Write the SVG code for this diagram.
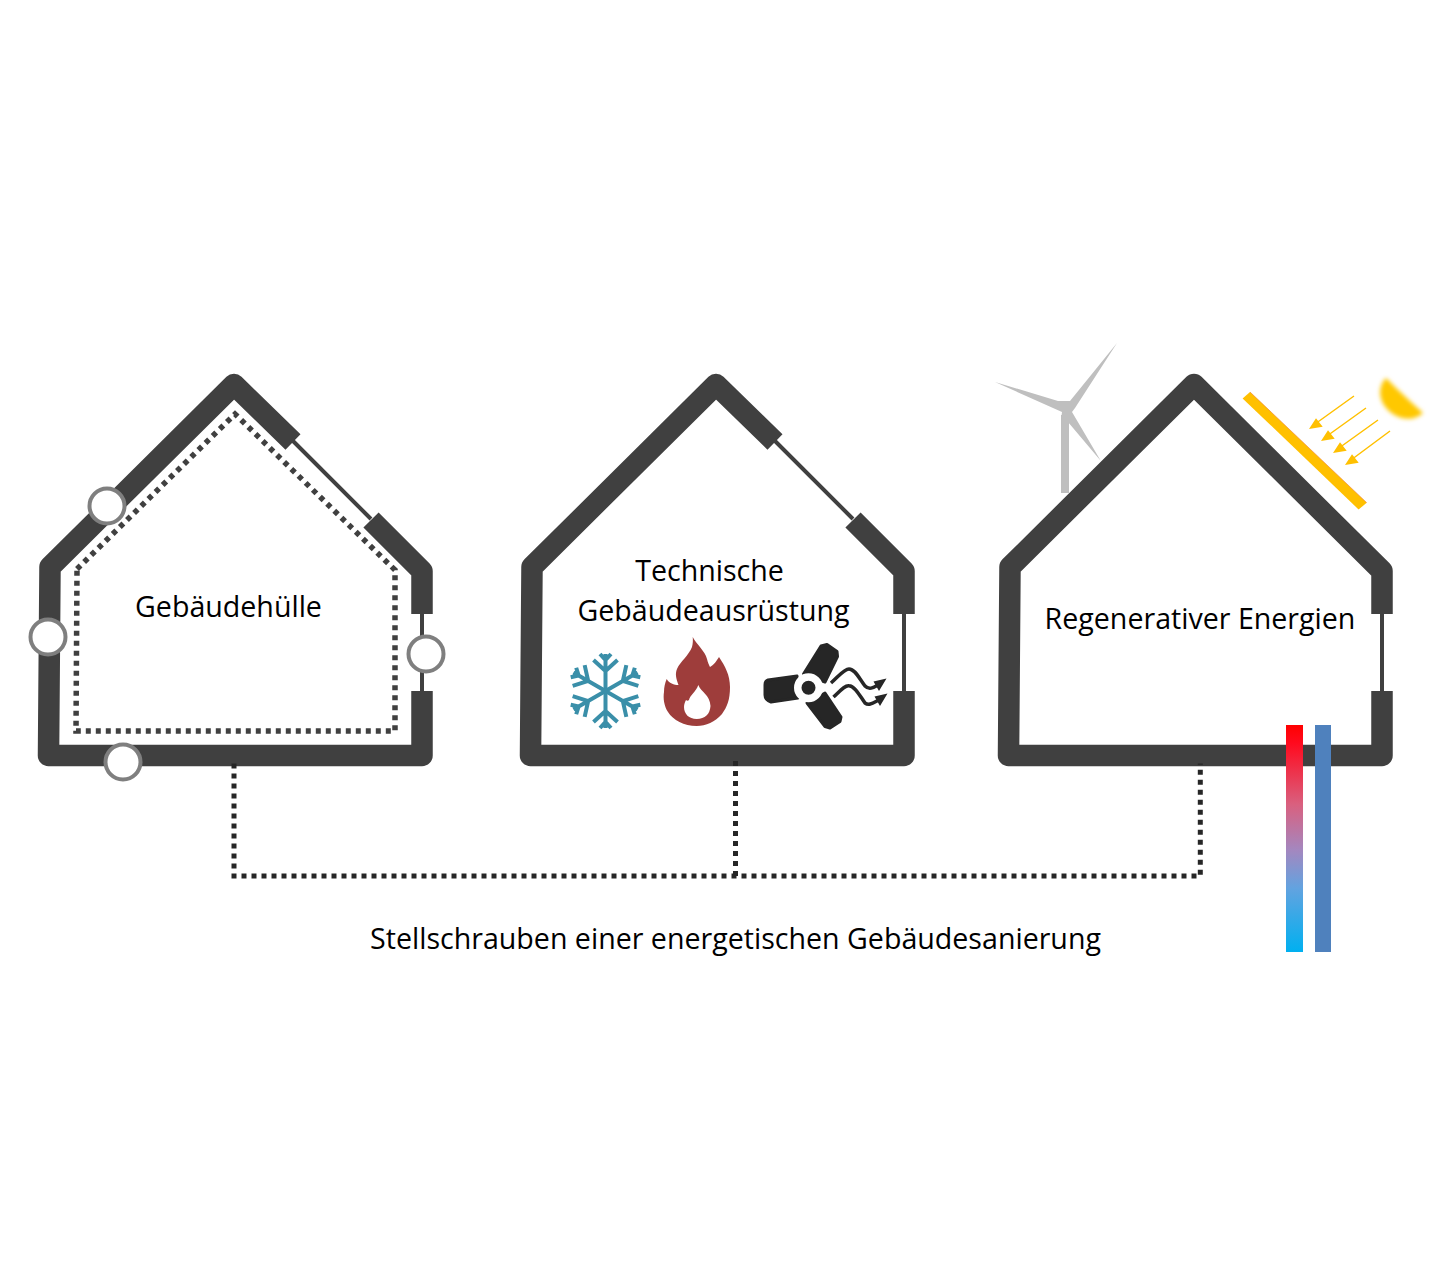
<svg xmlns="http://www.w3.org/2000/svg" xmlns:xlink="http://www.w3.org/1999/xlink" width="1440" height="1280" viewBox="0 0 1440 1280">
<style>
.wall{fill:none;stroke:#404040;stroke-width:21.500;stroke-linejoin:round}
.thin{fill:none;stroke:#404040;stroke-width:4}
.dots{fill:none;stroke:#404040;stroke-width:5.500;stroke-dasharray:5 5}
.conn{fill:none;stroke:#262626;stroke-width:5;stroke-dasharray:5 5}
.knob{fill:#fff;stroke:#7f7f7f;stroke-width:4}
.lbl{font-family:"Open Sans","Noto Sans",sans-serif;font-size:28.600px;fill:#000;text-anchor:middle}
.ray{stroke:#ffc000;stroke-width:1.500}
.ice{fill:none;stroke:#3a8fa9;stroke-width:4}
.blade{fill:#262626;stroke:#262626;stroke-width:3;stroke-linejoin:round}
</style>
<defs>
<linearGradient id="hot" x1="0" y1="0" x2="0" y2="1"><stop offset="0" stop-color="#ff0000"/><stop offset=".08" stop-color="#ff0a1e"/><stop offset=".35" stop-color="#d9607f"/><stop offset=".55" stop-color="#a487bf"/><stop offset=".72" stop-color="#62a3e0"/><stop offset="1" stop-color="#00b0f0"/></linearGradient>
<filter id="soft" x="-20%" y="-20%" width="140%" height="140%"><feGaussianBlur stdDeviation="2.200"/></filter>
<g id="arm"><path class="ice" d="M0,0V-37M-12,-31L0,-20L12,-31M-5.500,-37L0,-31L5.500,-37"/></g>
</defs>
<rect width="1440" height="1280" fill="#fff"/>
<g id="house-huelle">
<path class="wall" d="M422,691V755.500H48.500L50,567L234,384.500L293,442"/>
<path class="wall" d="M371,520L422,571V614"/>
<path class="thin" d="M293,441L371,519M422,614V691"/>
<path class="dots" d="M77,569L235,414L395,570V731H76Z"/>
<circle class="knob" cx="107" cy="506" r="17.500"/>
<circle class="knob" cx="48" cy="637" r="17.500"/>
<circle class="knob" cx="426" cy="654" r="17.500"/>
<circle class="knob" cx="123" cy="762" r="17.500"/>
<text class="lbl" x="228.500" y="617">Gebäudehülle</text>
</g>
<g id="house-technik">
<path class="wall" d="M904,691V755.500H530.500L532,567L716,384.500L775,442"/>
<path class="wall" d="M853,520L904,571V614"/>
<path class="thin" d="M775,441L853,519M904,614V691"/>
<text class="lbl" x="709.500" y="581">Technische</text>
<text class="lbl" x="713.500" y="621">Gebäudeausrüstung</text>
<g id="snowflake" transform="translate(605.500,691)">
<use xlink:href="#arm"/><use xlink:href="#arm" transform="rotate(60)"/><use xlink:href="#arm" transform="rotate(120)"/><use xlink:href="#arm" transform="rotate(180)"/><use xlink:href="#arm" transform="rotate(240)"/><use xlink:href="#arm" transform="rotate(300)"/>
</g>
<g id="flame">
<path fill="#9e3d3b" d="M692.700,637C697,645 705,651 707,659C708,663 709,665 710,667C714,665 717,660 719,657C725,666 730,675 730,687C730,700 727,707 722,714C715,722 706,726 696.700,726C684,726 673,720 668,712C664,706 663,698 664,692C664,687 665,683 666.700,679C669,683 674,685 678.500,685C676,678 675,674 677,669C680,662 689,655 692,647C693,643 693,640 692.700,637Z"/>
<path fill="#fff" d="M698.300,685C701,692 710,695 710.500,706C710,714 705,719 696.700,719C689,719 684,714 684,707C684,704 685,702 686,700C687,701 688,701 689,700C690,695 696,692 698.300,685Z"/>
</g>
<g id="fan">
<path class="blade" d="M768,680L797,676L798,698L771,702Q765,700 765,695V685Q765,681 768,680Z"/>
<path class="blade" d="M803.500,674L821,646L827,644.500L837,651.500L837.500,656.500L825,682Z"/>
<path class="blade" d="M807,703L825,693L841,717L840,721.500L830,728L825,726.500Z"/>
<circle cx="808.500" cy="687.700" r="10.750" fill="#262626" stroke="#fff" stroke-width="7.500"/>
<path fill="none" stroke="#262626" stroke-width="3.500" d="M831,683C838,677 844,669 849,669C855,669 859,678 865,686C869,690 873,688 878,685M833.500,697C840,691 845,685 849,685.700C855,686 860,696 865,703C869,706 873,703 879,700"/>
<path fill="#262626" d="M886.500,678.500L873.500,681.500L879,691ZM887.500,693.500L874.500,696.500L880,706Z"/>
</g>
</g>
<g id="house-energie">
<path class="wall" d="M1382,691V755.500H1008.500L1010,567L1194,384.500L1382,571V614"/>
<path class="thin" d="M1382,614V691"/>
<text class="lbl" x="1200" y="629">Regenerativer Energien</text>
<g id="turbine" fill="#bfbfbf">
<rect x="1061" y="415" width="8" height="78"/>
<path d="M1117,343L1075,408L1072,412L1100.700,460.700L1068,422L1061,420L1062,412L995,382L1058,401L1070,401Z"/>
</g>
<g id="solar">
<path fill="#ffc000" d="M1242.600,398.400L1250,392L1366.700,502.700L1358.600,509.400Z"/>
<path stroke="#ed7d31" stroke-width="1" stroke-opacity=".6" fill="none" d="M1250,392L1366.700,502.700"/>
<g id="rays">
<path class="ray" d="M1354,396L1315,424M1366,408L1327,436M1378,420L1339,448M1390,431L1351,460"/>
<path fill="#ffc000" d="M1309,429L1322.700,426.700L1316,418.300ZM1321,441L1334.700,438.700L1328,430.300ZM1333,453L1346.700,450.700L1340,442.300ZM1345,465L1358.700,462.700L1352,454.300Z"/>
</g>
<path id="sun" filter="url(#soft)" fill="#ffc800" d="M1386,378C1378,386 1378,400 1388,410C1398,420 1414,422 1423,413C1412,403 1398,390 1386,378Z"/>
</g>
<rect x="1286" y="725" width="17" height="227" fill="url(#hot)"/>
<rect x="1315" y="725" width="16" height="227" fill="#4f81bd"/>
</g>
<g id="connectors">
<path class="conn" d="M234,763.500V876H1200.300V763.500"/>
<path class="conn" d="M735.500,761V876"/>
</g>
<text class="lbl" x="735.500" y="949">Stellschrauben einer energetischen Gebäudesanierung</text>
</svg>
